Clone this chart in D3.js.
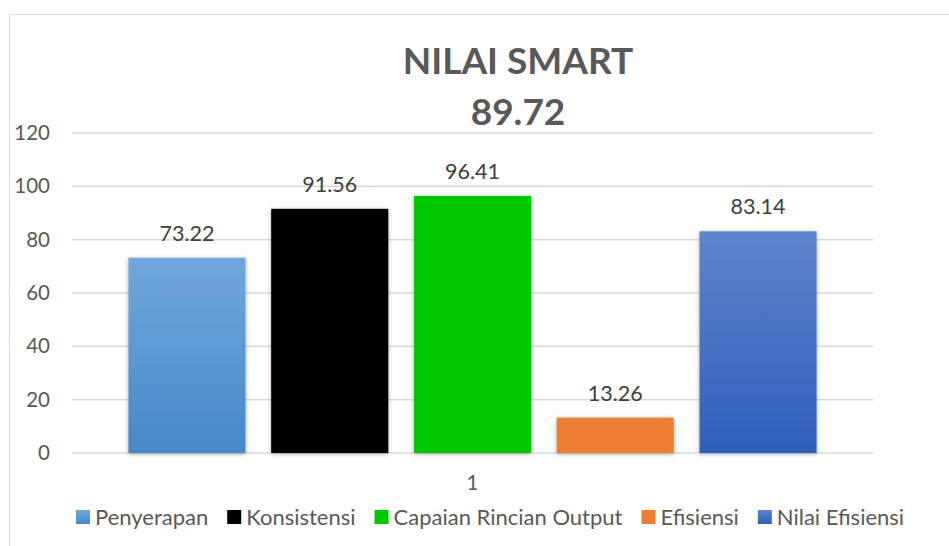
<!DOCTYPE html>
<html>
<head>
<meta charset="utf-8">
<script src="https://cdn.jsdelivr.net/npm/d3@7"></script>
<style>
  body { margin: 0; background: #fff; }
  svg { display: block; }
</style>
</head>
<body>
<svg class="chart" width="949" height="546"></svg>
<script>
// data
var titleLine1 = "NILAI SMART";
var titleLine2 = "89.72";
var categories = ["1"];
var seriesNames = ["Penyerapan", "Konsistensi", "Capaian Rincian Output", "Efisiensi", "Nilai Efisiensi"];
var seriesValues = [73.22, 91.56, 96.41, 13.26, 83.14];
var yTicks = [0, 20, 40, 60, 80, 100, 120];

var colorTop = ["#70a7dd", "#000000", "#00c800", "#ed7d31", "#5d84cd"];
var colorBottom = ["#4689c9", "#000000", "#00c800", "#ed7d31", "#2e5fba"];

var font = "Lato, 'Open Sans', sans-serif";
var textColor = "#595959";

var svg = d3.select(".chart");

var margin = { top: 133, right: 76, bottom: 93, left: 72 },
    width = 949 - margin.left - margin.right,
    height = 546 - margin.top - margin.bottom;

// chart area border
svg.append("rect")
    .attr("x", 9.5)
    .attr("y", 14.5)
    .attr("width", 960)
    .attr("height", 560)
    .attr("fill", "#fff")
    .attr("stroke", "#d9d9d9")
    .attr("stroke-width", 1);

var defs = svg.append("defs");
seriesNames.forEach(function (s, i) {
    var g = defs.append("linearGradient")
        .attr("id", "grad" + i)
        .attr("x1", 0).attr("y1", 0)
        .attr("x2", 0).attr("y2", 1);
    g.append("stop").attr("offset", "0%").attr("stop-color", colorTop[i]);
    g.append("stop").attr("offset", "100%").attr("stop-color", colorBottom[i]);
});
var shadow = defs.append("filter")
    .attr("id", "shadow")
    .attr("x", "-20%").attr("y", "-20%")
    .attr("width", "140%").attr("height", "140%");
shadow.append("feDropShadow")
    .attr("dx", 0).attr("dy", 1)
    .attr("stdDeviation", 2)
    .attr("flood-color", "#000")
    .attr("flood-opacity", 0.35);

var g = svg.append("g")
    .attr("transform", "translate(" + margin.left + "," + margin.top + ")");

var y = d3.scaleLinear()
    .domain([0, 120])
    .range([height, 0]);

var x0 = d3.scaleBand()
    .domain(categories)
    .range([0, width])
    .paddingOuter(0.082);

var x1 = d3.scaleBand()
    .domain(seriesNames)
    .range([0, x0.bandwidth()])
    .paddingInner(0.18);

// gridlines
g.selectAll(".grid")
    .data(yTicks)
    .enter().append("line")
    .attr("class", "grid")
    .attr("x1", 0)
    .attr("x2", width)
    .attr("y1", d => y(d))
    .attr("y2", d => y(d))
    .attr("stroke", "#d9d9d9")
    .attr("stroke-width", 1.5);

// y axis labels
var yAxis = g.append("g")
    .call(d3.axisLeft(y).tickValues(yTicks).tickSize(0).tickPadding(22));
yAxis.select(".domain").remove();
yAxis.selectAll("text")
    .attr("font-family", font)
    .attr("font-size", "20.5px")
    .attr("fill", textColor);

// x axis label
var xAxis = g.append("g")
    .attr("transform", "translate(0," + height + ")")
    .call(d3.axisBottom(x0).tickSize(0).tickPadding(22));
xAxis.select(".domain").remove();
xAxis.selectAll("text")
    .attr("font-family", font)
    .attr("font-size", "20.5px")
    .attr("fill", textColor);

// bars
var groups = g.selectAll(".cat")
    .data(categories)
    .enter().append("g")
    .attr("transform", d => "translate(" + x0(d) + ",0)");

var barData = seriesNames.map((s, i) => ({ name: s, value: seriesValues[i], idx: i }));

groups.selectAll("rect")
    .data(barData)
    .enter().append("rect")
    .attr("x", d => x1(d.name))
    .attr("width", x1.bandwidth())
    .attr("y", d => y(d.value))
    .attr("height", d => height - y(d.value))
    .attr("fill", d => "url(#grad" + d.idx + ")")
    .attr("filter", "url(#shadow)");

groups.selectAll(".lbl")
    .data(barData)
    .enter().append("text")
    .attr("class", "lbl")
    .attr("x", d => x1(d.name) + x1.bandwidth() / 2)
    .attr("y", d => y(d.value) - 17)
    .attr("text-anchor", "middle")
    .attr("font-family", font)
    .attr("font-size", "21.5px")
    .attr("fill", "#404040")
    .text(d => d.value.toFixed(2));

// title (centred on the full chart area, which runs past the right edge)
var titleX = 518;
svg.append("text")
    .attr("x", titleX)
    .attr("y", 74)
    .attr("text-anchor", "middle")
    .attr("font-family", font)
    .attr("font-weight", "bold")
    .attr("font-size", "37px")
    .attr("fill", textColor)
    .text(titleLine1);
svg.append("text")
    .attr("x", titleX)
    .attr("y", 125)
    .attr("text-anchor", "middle")
    .attr("font-family", font)
    .attr("font-weight", "bold")
    .attr("font-size", "37px")
    .attr("fill", textColor)
    .text(titleLine2);

// legend
var legend = svg.append("g").attr("transform", "translate(0,517)");
var lx = 76;
seriesNames.forEach(function (s, i) {
    var item = legend.append("g").attr("transform", "translate(" + lx + ",0)");
    item.append("rect")
        .attr("x", 0).attr("y", -7)
        .attr("width", 14).attr("height", 14)
        .attr("fill", "url(#grad" + i + ")");
    var t = item.append("text")
        .attr("x", 19)
        .attr("y", 0)
        .attr("dy", "0.35em")
        .attr("font-family", font)
        .attr("font-size", "22px")
        .attr("fill", textColor)
        .text(s);
    lx += 19 + t.node().getComputedTextLength() + 19;
});
</script>
</body>
</html>
